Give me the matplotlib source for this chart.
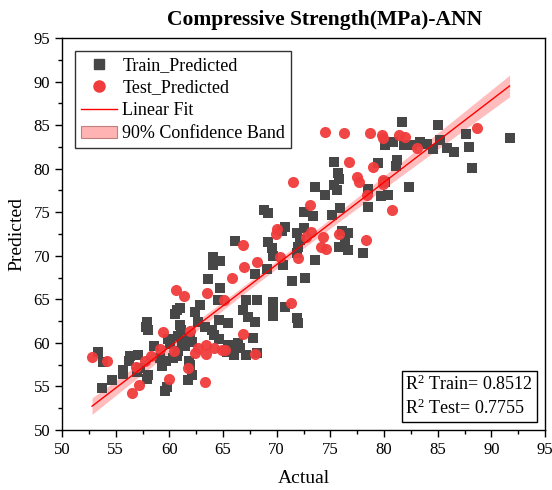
import numpy as np
import matplotlib
matplotlib.use("Agg")
import matplotlib.pyplot as plt
from matplotlib.patches import Patch
from matplotlib.lines import Line2D

plt.rcParams['font.family'] = ['Liberation Serif', 'DejaVu Serif']
plt.rcParams['mathtext.fontset'] = 'custom'
plt.rcParams['mathtext.rm'] = 'Liberation Serif'
plt.rcParams['mathtext.it'] = 'Liberation Serif:italic'

train_actual = [64.1,64.7,64.1,63.6,64.7,64.5,62.9,62.4,60.7,61.0,60.5,64.6,65.5,57.9,57.8,58.0,61.0,61.1,62.7,63.3,
                64.0,64.2,64.6,59.9,60.1,58.6,61.2,61.5,60.8,61.9,62.1,65.5,65.4,53.4,53.8,56.3,56.2,57.1,55.7,55.7,
                57.3,57.0,59.1,59.3,59.7,60.7,60.3,54.7,53.7,58.0,57.9,59.8,59.6,61.8,61.9,62.1,61.7,60.8,66.4,66.6,
                65.9,66.0,67.1,68.2,67.8,66.9,67.3,68.0,67.1,68.2,69.7,70.8,69.7,69.7,71.9,72.0,71.4,72.6,69.1,68.0,
                70.6,69.7,73.6,66.1,69.2,69.6,70.8,70.5,71.9,72.5,72.2,72.0,71.9,68.8,69.2,72.5,73.4,75.2,75.9,73.6,
                74.5,75.7,75.8,75.3,75.6,75.3,76.1,76.6,76.4,75.8,76.6,78.0,78.5,78.5,81.7,85.0,87.6,91.7,80.8,80.1,
                81.9,82.6,83.4,84.0,84.6,85.2,85.9,86.5,87.9,88.2,81.2,81.1,79.4,82.3,80.4,79.7,80.1]
train_pred = [69.9,69.4,68.9,67.3,66.3,64.9,64.4,63.6,63.8,64.0,63.3,62.6,62.3,62.4,61.8,61.5,62.1,61.5,62.4,61.8,
              61.5,60.9,60.5,60.5,59.9,59.6,60.2,59.6,59.1,60.6,60.1,59.8,59.0,59.0,57.8,58.5,57.9,58.6,56.9,56.4,
              57.1,56.7,58.3,57.4,57.9,58.5,58.3,55.7,54.8,56.3,55.9,54.9,54.5,57.9,57.5,56.3,55.7,60.8,60.0,59.4,
              59.0,58.6,58.6,58.8,60.6,63.8,63.0,62.4,64.9,64.9,64.7,64.1,63.6,63.1,62.9,62.3,67.1,67.5,68.5,67.9,
              68.9,70.0,69.5,71.7,71.6,70.9,73.3,72.9,72.6,73.2,71.8,71.0,70.3,75.3,74.9,75.0,74.6,74.7,75.5,77.9,
              77.0,79.5,78.8,78.1,77.6,80.8,72.9,72.6,71.5,71.0,70.7,70.3,75.6,77.7,85.4,85.0,84.0,83.5,83.1,82.7,
              82.7,82.7,83.1,82.8,82.3,83.3,82.4,81.9,82.5,80.1,81.0,80.3,80.7,77.9,77.0,76.9,78.5]
test_actual = [52.8,54.2,56.5,57.2,56.9,57.7,58.3,59.1,59.4,60.4,60.6,61.4,63.5,65.1,65.8,61.9,62.4,62.7,63.4,63.4,
               64.2,64.9,61.7,60.0,63.3,66.9,68.0,65.2,67.0,68.2,70.3,72.0,71.3,66.9,70.0,69.9,71.5,73.1,72.7,73.2,
               74.3,74.1,74.6,75.8,78.3,74.5,76.3,78.7,79.8,79.9,81.4,82.0,88.7,83.1,76.7,79.0,77.5,77.7,79.9,79.9,
               78.4,80.7]
test_pred = [58.4,57.9,54.3,55.2,57.2,57.9,58.5,59.3,61.3,59.1,66.1,65.4,65.7,64.9,67.5,61.4,58.8,59.4,59.8,58.7,
             59.4,59.2,57.1,55.9,55.5,61.0,58.7,59.2,68.7,69.3,69.9,69.8,64.6,71.2,73.1,72.5,78.5,75.8,72.2,72.7,
             72.2,71.0,70.8,72.5,71.8,84.2,84.1,84.1,83.9,83.5,83.9,83.6,84.7,82.4,80.8,80.2,79.1,78.5,78.7,78.2,
             77.0,75.3]

r2_train = 0.8512
r2_test = 0.7755
title = "Compressive Strength(MPa)-ANN"

fig = plt.figure(figsize=(5.52, 4.90), dpi=100)
ax = fig.add_axes([62/552, 60/490, 483/552, 392/490])

# linear fit with 90% confidence band
xa = np.array(train_actual + test_actual)
ya = np.array(train_pred + test_pred)
n = len(xa)
b, a = np.polyfit(xa, ya, 1)
resid = ya - (a + b * xa)
s = np.sqrt(np.sum(resid**2) / (n - 2))
xm = xa.mean()
sxx = np.sum((xa - xm)**2)
xf = np.linspace(xa.min(), xa.max(), 200)
yf = a + b * xf
t90 = 1.653
se = s * np.sqrt(1.0/n + (xf - xm)**2 / sxx)
ax.fill_between(xf, yf - t90*se, yf + t90*se, color='#ff9a9a', alpha=0.65, lw=0, zorder=1)

ax.scatter(train_actual, train_pred, marker='s', s=50, color='#474747', linewidths=0, zorder=2)
ax.scatter(test_actual, test_pred, marker='o', s=64, color='#f03c3c', linewidths=0, alpha=0.95, zorder=3)
ax.plot(xf, yf, color='#ff0000', lw=1.0, zorder=4)

ax.set_xlim(50, 95)
ax.set_ylim(50, 95)
ax.set_xticks(np.arange(50, 96, 5))
ax.set_yticks(np.arange(50, 96, 5))
ax.set_xticks(np.arange(52.5, 95, 5), minor=True)
ax.set_yticks(np.arange(52.5, 95, 5), minor=True)
ax.tick_params(which='major', direction='out', length=5, width=1.0, labelsize=12, top=False, right=False)
ax.tick_params(which='minor', direction='out', length=3, width=1.0, top=False, right=False)
for sp in ax.spines.values():
    sp.set_linewidth(1.0)

ax.set_xlabel("Actual", fontsize=14, labelpad=9)
ax.set_ylabel("Predicted", fontsize=14, labelpad=6)
fig.text(325/552, 1 - 20/490, title, fontsize=15.5, fontweight='bold', ha='center', va='center')

handles = [
    Line2D([], [], marker='s', ls='none', color='#474747', markersize=7),
    Line2D([], [], marker='o', ls='none', color='#f03c3c', markersize=8),
    Line2D([], [], color='#ff0000', lw=1.0),
    Patch(facecolor='#ffb3b3', edgecolor='#c08080', lw=0.8),
]
labels = ["Train_Predicted", "Test_Predicted", "Linear Fit", "90% Confidence Band"]
leg = ax.legend(handles, labels, loc='upper left', bbox_to_anchor=(0.02, 0.975), fontsize=13,
                frameon=True, fancybox=False, edgecolor='black', borderpad=0.3, labelspacing=0.32,
                handlelength=2.0, handletextpad=0.3, borderaxespad=0.2)
leg.get_frame().set_linewidth(1.0)

r2_text = f"R$^2$ Train= {r2_train:.4f}\nR$^2$ Test= {r2_test:.4f}"
ax.text(0.975, 0.03, r2_text, transform=ax.transAxes, ha='right', va='bottom', multialignment='left',
        fontsize=13, linespacing=1.3,
        bbox=dict(boxstyle='square,pad=0.2', facecolor='white', edgecolor='black', lw=1.0))

fig.savefig("out.png", dpi=100)
